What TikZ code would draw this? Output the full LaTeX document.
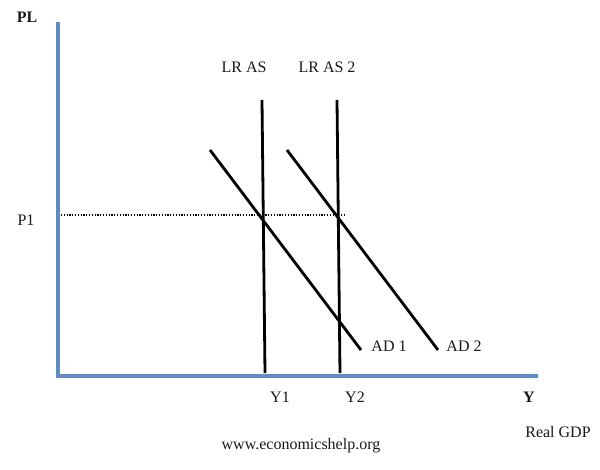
\documentclass[tikz,border=0pt]{standalone}
\usepackage{fontspec}
\setmainfont{Liberation Serif}
\definecolor{axisblue}{RGB}{96,140,192}
\definecolor{txt}{RGB}{25,25,25}
\begin{document}
\begin{tikzpicture}[x=1pt,y=-1pt,
  lbl/.style={inner sep=0pt,text=txt,font=\fontsize{16}{18}\selectfont},
  blbl/.style={inner sep=0pt,text=txt,font=\fontsize{16}{18}\selectfont\bfseries},
  axis/.style={draw=axisblue,line width=4pt},
  curve/.style={draw=black,line width=2.8pt}]
\useasboundingbox[fill=white] (0,0) rectangle (600,470);
% axes
\coordinate (top) at (58,22);
\coordinate (O) at (58,376);
\coordinate (right) at (538,376);
\draw[axis] (top) -- (O) -- (right);
% curves
\coordinate (as1t) at (262,100);
\coordinate (as1b) at (265,373);
\coordinate (as2t) at (337,100);
\coordinate (as2b) at (340,373);
\coordinate (ad1t) at (210,150);
\coordinate (ad1b) at (361,350);
\coordinate (ad2t) at (287,150);
\coordinate (ad2b) at (438,350);
\coordinate (p1s) at (61,215);
\coordinate (p1e) at (345,215);
\draw[dash pattern=on 1.2pt off 1.6pt,line width=1.2pt,black] (p1s) -- (p1e);
\draw[curve] (as1t) -- (as1b);
\draw[curve] (as2t) -- (as2b);
\draw[curve] (ad1t) -- (ad1b);
\draw[curve] (ad2t) -- (ad2b);
% labels
\node[blbl] (pl) at (27,17) {PL};
\node[lbl] (p1) at (26,220) {P1};
\node[lbl] (las1) at (244,67) {LR AS};
\node[lbl] (las2) at (327,67) {LR AS 2};
\node[lbl] (ad1) at (389,346) {AD 1};
\node[lbl] (ad2) at (464,346) {AD 2};
\node[lbl] (y1) at (280,397) {Y1};
\node[lbl] (y2) at (355,397) {Y2};
\node[blbl] (yl) at (529,397) {Y};
\node[lbl] (gdp) at (558,432) {Real GDP};
\node[lbl] (www) at (301,446) {www.economicshelp.org};
\end{tikzpicture}
\end{document}
